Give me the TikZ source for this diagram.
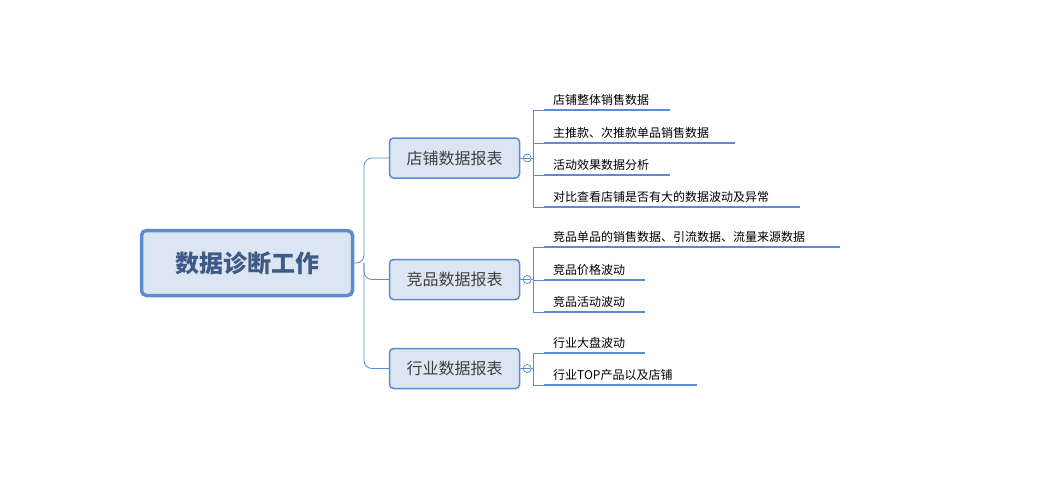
\documentclass[tikz,border=0pt]{standalone}
\usepackage{fontspec}
\setmainfont{Noto Sans CJK SC}
\usetikzlibrary{positioning}
\definecolor{mapblue}{HTML}{5B8BD0}
\definecolor{mapfill}{HTML}{DCE6F2}
\definecolor{maptext}{HTML}{3F5A86}
\tikzset{
  rootbox/.style={draw=mapblue, line width=3.5pt, fill=mapfill, rounded corners=5pt,
    minimum width=211pt, minimum height=65pt, font=\fontsize{24}{28}\selectfont\bfseries, text=maptext},
  branchbox/.style={draw=mapblue, line width=1.5pt, fill=mapfill, rounded corners=4pt,
    minimum width=130pt, minimum height=40pt, font=\fontsize{16}{19}\selectfont, text=black!75},
  leaf/.style={anchor=south west, inner sep=2pt, font=\fontsize{12}{14}\selectfont},
  underline/.style={mapblue, line width=2.5pt},
  link/.style={mapblue, line width=0.8pt, rounded corners=8pt},
  tick/.style={mapblue, line width=0.8pt}
}
\begin{document}
\begin{tikzpicture}[x=1pt,y=-1pt]
\useasboundingbox (0,0) rectangle (1049,501);
\node[rootbox] (root) at (247,263) {数据诊断工作};
\node[branchbox] (shop) at (454.5,158) {店铺数据报表};
\node[branchbox] (rival) at (454.5,279.5) {竞品数据报表};
\node[branchbox] (trade) at (454.5,368.5) {行业数据报表};
% root to branches
\draw[link] (root.east) -- (364,263) |- (shop.west);
\draw[link] (364,263) |- (rival.west);
\draw[link] (364,263) |- (trade.west);
% brackets
\foreach \b/\ya/\yb in {shop/110/207, rival/247/312, trade/353/385}{
  \draw[tick] (\b.east) -- ++(3,0);
  \draw[tick, fill=white] ([xshift=7pt]\b.east) circle (4);
  \draw[tick] ([xshift=4pt]\b.east) -- ([xshift=10pt]\b.east);
  \draw[tick] ([xshift=11pt]\b.east) -- ([xshift=13.5pt]\b.east);
  \draw[tick] (533,\ya) -- (533,\yb);
}
% leaves
\foreach \y/\e/\t [count=\i] in {
  110/670/店铺整体销售数据,
  143/735/主推款、次推款单品销售数据,
  175/670/活动效果数据分析,
  207/800/对比查看店铺是否有大的数据波动及异常,
  247/840/竞品单品的销售数据、引流数据、流量来源数据,
  280/645/竞品价格波动,
  312/645/竞品活动波动,
  353/645/行业大盘波动,
  385/697/行业TOP产品以及店铺}{
  \draw[tick] (533,\y) -- (544,\y);
  \draw[underline] (544,\y) -- (\e,\y);
  \node[leaf] (leaf\i) at (551,\y-2) {\t};
}
\end{tikzpicture}
\end{document}
